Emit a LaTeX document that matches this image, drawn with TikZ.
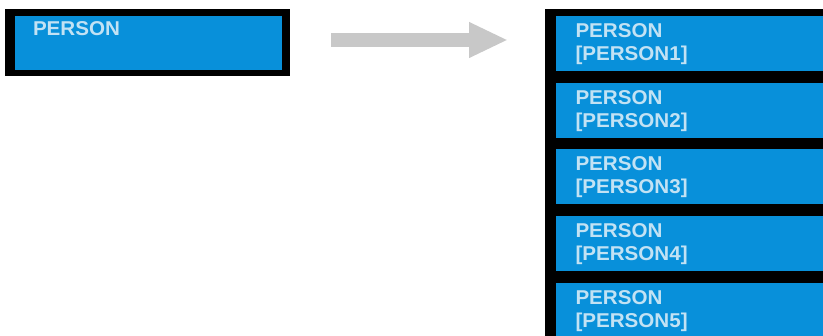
\documentclass[tikz,border=0pt]{standalone}
\usepackage{fontspec}
\setmainfont{Liberation Sans}
\newfontfamily\lblfont{Liberation Sans}[FakeStretch=1.03]
\usetikzlibrary{arrows.meta}
\definecolor{boxblue}{HTML}{0890DA}
\definecolor{txtblue}{HTML}{C2E2F4}
\definecolor{arrowgray}{HTML}{C8C8C8}
\tikzset{
  frame/.style={anchor=north west, fill=black, inner sep=0pt, outer sep=0pt},
  bluebox/.style={anchor=north west, fill=boxblue, inner sep=0pt, outer sep=0pt, minimum width=267pt},
  lbl/.style={anchor=north west, inner sep=0pt, outer sep=0pt, text=txtblue, align=left,
    font=\lblfont\bfseries\fontsize{20}{23}\selectfont},
  bigarrow/.style={draw=arrowgray, line width=14pt, line cap=butt,
    -{Triangle[width=33pt,length=39pt,fill=arrowgray]}}
}
\begin{document}
\begin{tikzpicture}[x=1pt,y=-1pt]
\useasboundingbox (0,0) rectangle (823,336);
\fill[white] (0,0) rectangle (823,336);
% left box
\node[frame, minimum width=285pt, minimum height=67pt] (lframe) at (5,9) {};
\node[bluebox, minimum height=54pt] (lbox) at (15,16) {};
\node[lbl] (ltext) at (33,22) {PERSON};
% arrow
\coordinate (astart) at (331,40);
\coordinate (aend) at (508,40);
\draw[bigarrow] (astart) -- (aend);
% right stack
\node[frame, minimum width=278pt, minimum height=327pt] (rframe) at (545,9) {};
\node[bluebox, minimum height=55pt] (b1) at (556,16) {};
\node[bluebox, minimum height=55pt] (b2) at (556,82.75) {};
\node[bluebox, minimum height=55pt] (b3) at (556,149.5) {};
\node[bluebox, minimum height=55pt] (b4) at (556,216.25) {};
\node[bluebox, minimum height=53pt] (b5) at (556,283) {};
\node[lbl] (t1) at (575.5,23.5) {PERSON\\{}[PERSON1]};
\node[lbl] (t2) at (575.5,90.25) {PERSON\\{}[PERSON2]};
\node[lbl] (t3) at (575.5,157) {PERSON\\{}[PERSON3]};
\node[lbl] (t4) at (575.5,223.75) {PERSON\\{}[PERSON4]};
\node[lbl] (t5) at (575.5,290.5) {PERSON\\{}[PERSON5]};
\end{tikzpicture}
\end{document}
